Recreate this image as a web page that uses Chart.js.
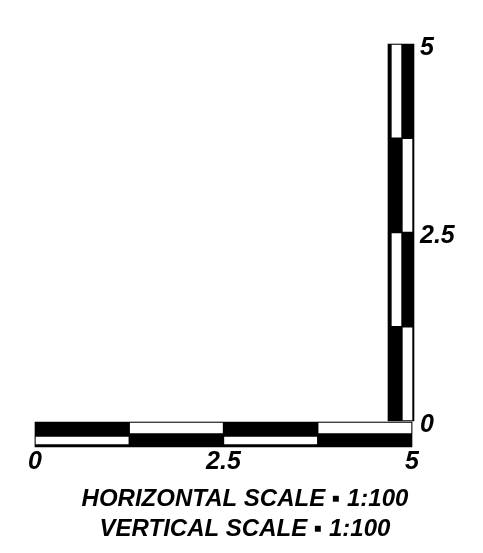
<!DOCTYPE html>
<html>
<head>
<meta charset="utf-8">
<script src="https://cdn.jsdelivr.net/npm/chart.js@4"></script>
<style>
  html, body { margin: 0; padding: 0; background: #fff; }
  #wrap { width: 483px; height: 553px; }
</style>
</head>
<body>
<div id="wrap"><canvas id="chart"></canvas></div>
<script>
// scale bar data
const segmentEdges = [0, 1.25, 2.5, 3.75, 5];
const xTicks = [0, 2.5, 5];
const yTicks = [0, 2.5, 5];
const hTopWhite = [1, 3];
const hBottomWhite = [0, 2];
const vLeftWhite = [1, 3];
const vRightWhite = [0, 2];
const titleLines = ['HORIZONTAL SCALE \u25AA 1:100', 'VERTICAL SCALE \u25AA 1:100'];

// where the two bars sit (axis units) and how thick they are (px)
const hBar = { at: -0.179, size: 25 };
const hTop = { at: -0.093, size: 12 };
const hBottom = { at: -0.259, size: 9 };
const vBar = { at: 4.854, size: 26 };
const vLeft = { at: 4.794, size: 11 };
const vRight = { at: 4.940, size: 11 };

const font = { family: '"Liberation Sans", Arial, sans-serif', style: 'italic', weight: 'bold' };
const first = segmentEdges[0];
const last = segmentEdges[segmentEdges.length - 1];

function horizontal(pos, ranges, color, order) {
  return {
    indexAxis: 'y',
    data: ranges.map((r) => ({ y: pos.at, x: r })),
    barThickness: pos.size,
    backgroundColor: color,
    borderColor: '#000',
    borderWidth: color === '#000' ? 0 : 1,
    borderSkipped: false,
    grouped: false,
    clip: false,
    order: order,
  };
}

function vertical(pos, ranges, color, order) {
  return {
    indexAxis: 'x',
    data: ranges.map((r) => ({ x: pos.at, y: r })),
    barThickness: pos.size,
    backgroundColor: color,
    borderColor: '#000',
    borderWidth: color === '#000' ? 0 : 1,
    borderSkipped: false,
    grouped: false,
    clip: false,
    order: order,
  };
}

const seg = (i) => [segmentEdges[i], segmentEdges[i + 1]];

const config = {
  type: 'bar',
  data: {
    datasets: [
      horizontal(hBar, [[first, last]], '#000', 2),
      vertical(vBar, [[first, last]], '#000', 2),
      horizontal(hTop, hTopWhite.map(seg), '#fff', 1),
      horizontal(hBottom, hBottomWhite.map(seg), '#fff', 1),
      vertical(vLeft, vLeftWhite.map(seg), '#fff', 1),
      vertical(vRight, vRightWhite.map(seg), '#fff', 1),
    ],
  },
  options: {
    responsive: true,
    maintainAspectRatio: false,
    animation: false,
    events: [],
    layout: { padding: { left: 7, top: 44, right: 0, bottom: 0 } },
    scales: {
      x: {
        type: 'linear',
        min: 0,
        max: 5,
        offset: false,
        grid: { display: false, drawTicks: false },
        border: { display: false },
        afterBuildTicks: (scale) => { scale.ticks = xTicks.map((v) => ({ value: v })); },
        afterFit: (scale) => { scale.height = 30; },
        ticks: {
          color: '#000',
          padding: 0,
          maxRotation: 0,
          font: { ...font, size: 25 },
          callback: (v) => String(v),
        },
      },
      y: {
        type: 'linear',
        position: 'right',
        min: -0.345,
        max: 5,
        offset: false,
        grid: { display: false, drawTicks: false },
        border: { display: false },
        afterBuildTicks: (scale) => { scale.ticks = yTicks.map((v) => ({ value: v })); },
        afterFit: (scale) => { scale.width = 71; },
        ticks: {
          color: '#000',
          padding: 8,
          labelOffset: 4,
          font: { ...font, size: 25 },
          callback: (v) => String(v),
        },
      },
      // empty left gutter so the title can centre on the whole page
      gutter: {
        type: 'linear',
        axis: 'y',
        position: 'left',
        grid: { display: false, drawTicks: false },
        border: { display: false },
        ticks: { display: false },
        afterFit: (scale) => { scale.width = 28; },
      },
    },
    plugins: {
      legend: { display: false },
      tooltip: { enabled: false },
      title: {
        display: true,
        position: 'bottom',
        text: titleLines,
        color: '#000',
        padding: { top: 7, bottom: 9 },
        font: { ...font, size: 24, lineHeight: 30 / 24 },
      },
    },
  },
};

new Chart(document.getElementById('chart'), config);
</script>
</body>
</html>
